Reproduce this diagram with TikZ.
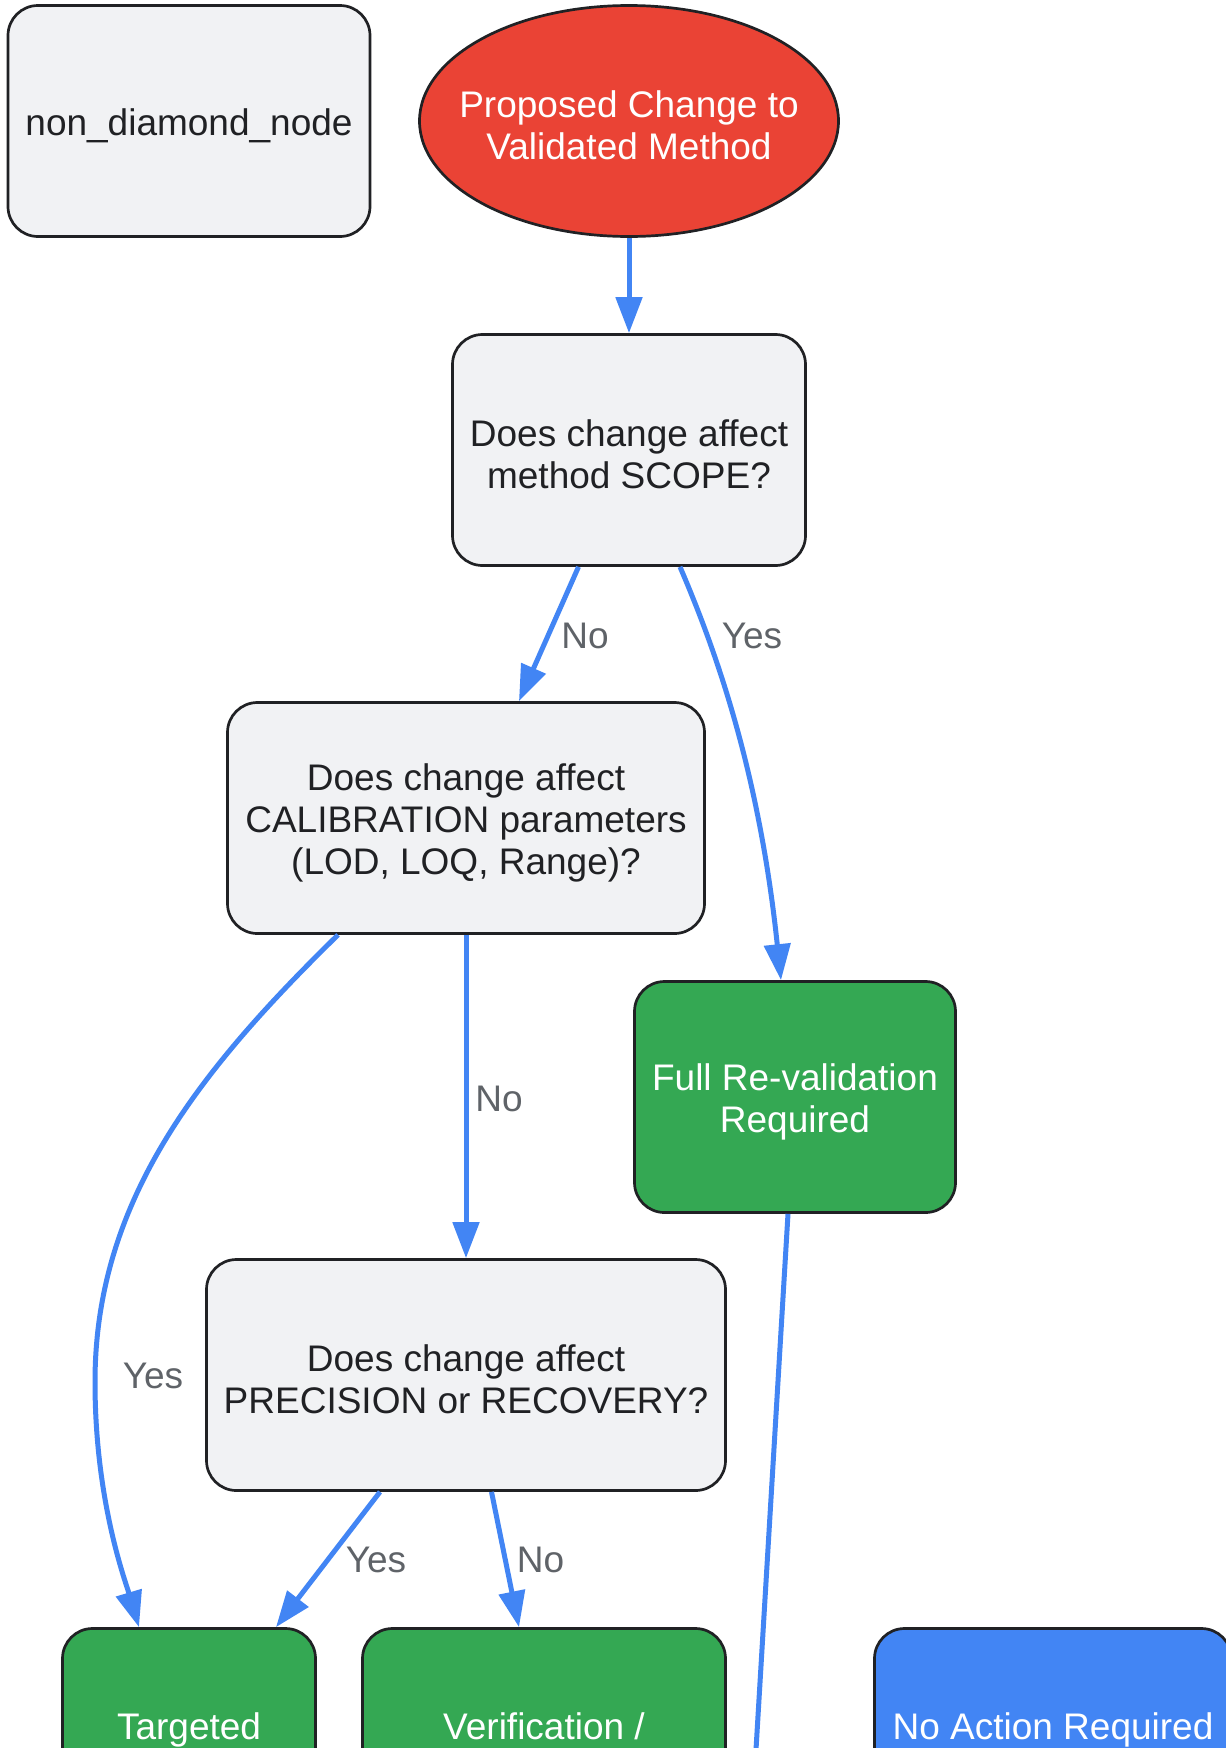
\documentclass[tikz,border=0pt]{standalone}
\usepackage{fontspec}
\setmainfont{Liberation Sans}
\usetikzlibrary{shapes.geometric,arrows.meta}
\definecolor{edgeblue}{HTML}{4285F4}
\definecolor{nodegray}{HTML}{F1F2F4}
\definecolor{borderdark}{HTML}{202124}
\definecolor{labelgray}{HTML}{5F6368}
\definecolor{okgreen}{HTML}{34A853}
\definecolor{startred}{HTML}{EA4335}
\tikzset{
  txt/.style={align=center, inner sep=0pt, font=\fontsize{37}{42}\selectfont},
  darktxt/.style={txt, text=borderdark, yshift=-4.5pt},
  whitetxt/.style={txt, text=white, yshift=-4.5pt},
  lowtxt/.style={txt, text=white, yshift=14.5pt},
  base/.style={draw=borderdark, line width=2.7pt, rounded corners=30pt,
    minimum height=231pt, inner sep=0pt},
  qbox/.style={base, fill=nodegray},
  gbox/.style={base, fill=okgreen},
  bbox/.style={base, fill=edgeblue},
  startnode/.style={ellipse, draw=borderdark, line width=2.7pt, fill=startred,
    minimum width=419pt, minimum height=231pt, inner sep=0pt},
  conn/.style={draw=edgeblue, line width=5pt, -{Triangle[length=36pt,width=26pt]}},
  plain/.style={draw=edgeblue, line width=5pt},
  lbl/.style={text=labelgray, font=\fontsize{37}{42}\selectfont, inner sep=0pt}
}
\begin{document}
\begin{tikzpicture}[x=1pt,y=-1pt]
\clip (0,0) rectangle (1226,1748);
\fill[white] (0,0) rectangle (1226,1748);

\node[qbox, minimum width=362pt, label={[darktxt]center:non\_diamond\_node}] (nd) at (189,121) {};
\node[startnode, label={[whitetxt]center:{Proposed Change to\\Validated Method}}] (start) at (629,121) {};
\node[qbox, minimum width=353pt, label={[darktxt]center:{Does change affect\\method SCOPE?}}] (q1) at (629,450) {};
\node[qbox, minimum width=477pt, label={[darktxt]center:{Does change affect\\CALIBRATION parameters\\(LOD, LOQ, Range)?}}] (q2) at (466,818) {};
\node[gbox, minimum width=321pt, label={[whitetxt]center:{Full Re-validation\\Required}}] (full) at (795,1097) {};
\node[qbox, minimum width=519pt, label={[darktxt]center:{Does change affect\\PRECISION or RECOVERY?}}] (q3) at (466,1375) {};
\node[gbox, minimum width=253pt, label={[lowtxt]center:Targeted}] (targ) at (189,1744) {};
\node[gbox, minimum width=363pt, label={[lowtxt, yshift=3.5pt]center:Verification /}] (verif) at (544,1744) {};
\node[bbox, minimum width=357pt, label={[lowtxt]center:No Action Required}] (noact) at (1053,1744) {};
\coordinate (fullout) at (750,1850);

\draw[conn] (start.south) -- (q1.north);
\draw[conn] ([xshift=-50.5pt]q1.south) -- ([xshift=53pt]q2.north);
\draw[conn] ([xshift=51pt]q1.south) .. controls (720,660) and (760,780) .. ([xshift=-14pt]full.north);
\draw[conn] (q2.south) -- (q3.north);
\draw[conn] ([xshift=-128pt]q2.south) .. controls (200,1070) and (95,1200) .. (95,1382)
  .. controls (95,1500) and (125,1580) .. ([xshift=-50pt]targ.north);
\draw[conn] ([xshift=-86pt]q3.south) -- ([xshift=87pt]targ.north);
\draw[conn] ([xshift=25.5pt]q3.south) -- ([xshift=-25pt]verif.north);
\draw[plain] ([xshift=-7pt]full.south) -- (fullout);

\node[lbl] (l1) at (585,636) {No};
\node[lbl] (l2) at (752,636) {Yes};
\node[lbl] (l3) at (499,1099) {No};
\node[lbl] (l4) at (153,1376) {Yes};
\node[lbl] (l5) at (376,1560) {Yes};
\node[lbl] (l6) at (540.5,1560) {No};
\end{tikzpicture}
\end{document}
